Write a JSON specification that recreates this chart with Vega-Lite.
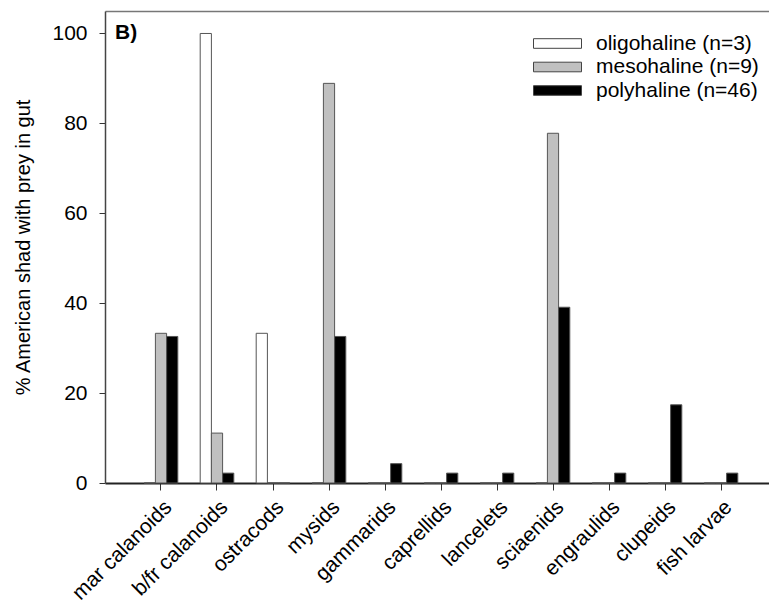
{
  "$schema": "https://vega.github.io/schema/vega-lite/v6.json",
  "width": 664,
  "height": 472,
  "autosize": "none",
  "padding": {"left": 105, "top": 11, "right": 0, "bottom": 122},
  "data": {
    "values": [
      {"prey": "mar calanoids", "group": "oligohaline (n=3)", "pct": 0},
      {"prey": "mar calanoids", "group": "mesohaline (n=9)", "pct": 33.3},
      {"prey": "mar calanoids", "group": "polyhaline (n=46)", "pct": 32.6},
      {"prey": "b/fr calanoids", "group": "oligohaline (n=3)", "pct": 100},
      {"prey": "b/fr calanoids", "group": "mesohaline (n=9)", "pct": 11.1},
      {"prey": "b/fr calanoids", "group": "polyhaline (n=46)", "pct": 2.2},
      {"prey": "ostracods", "group": "oligohaline (n=3)", "pct": 33.3},
      {"prey": "ostracods", "group": "mesohaline (n=9)", "pct": 0},
      {"prey": "ostracods", "group": "polyhaline (n=46)", "pct": 0},
      {"prey": "mysids", "group": "oligohaline (n=3)", "pct": 0},
      {"prey": "mysids", "group": "mesohaline (n=9)", "pct": 88.9},
      {"prey": "mysids", "group": "polyhaline (n=46)", "pct": 32.6},
      {"prey": "gammarids", "group": "oligohaline (n=3)", "pct": 0},
      {"prey": "gammarids", "group": "mesohaline (n=9)", "pct": 0},
      {"prey": "gammarids", "group": "polyhaline (n=46)", "pct": 4.3},
      {"prey": "caprellids", "group": "oligohaline (n=3)", "pct": 0},
      {"prey": "caprellids", "group": "mesohaline (n=9)", "pct": 0},
      {"prey": "caprellids", "group": "polyhaline (n=46)", "pct": 2.2},
      {"prey": "lancelets", "group": "oligohaline (n=3)", "pct": 0},
      {"prey": "lancelets", "group": "mesohaline (n=9)", "pct": 0},
      {"prey": "lancelets", "group": "polyhaline (n=46)", "pct": 2.2},
      {"prey": "sciaenids", "group": "oligohaline (n=3)", "pct": 0},
      {"prey": "sciaenids", "group": "mesohaline (n=9)", "pct": 77.8},
      {"prey": "sciaenids", "group": "polyhaline (n=46)", "pct": 39.1},
      {"prey": "engraulids", "group": "oligohaline (n=3)", "pct": 0},
      {"prey": "engraulids", "group": "mesohaline (n=9)", "pct": 0},
      {"prey": "engraulids", "group": "polyhaline (n=46)", "pct": 2.2},
      {"prey": "clupeids", "group": "oligohaline (n=3)", "pct": 0},
      {"prey": "clupeids", "group": "mesohaline (n=9)", "pct": 0},
      {"prey": "clupeids", "group": "polyhaline (n=46)", "pct": 17.4},
      {"prey": "fish larvae", "group": "oligohaline (n=3)", "pct": 0},
      {"prey": "fish larvae", "group": "mesohaline (n=9)", "pct": 0},
      {"prey": "fish larvae", "group": "polyhaline (n=46)", "pct": 2.2}
    ]
  },
  "layer": [
    {
      "mark": {"type": "bar", "stroke": "#555", "strokeWidth": 1},
      "encoding": {
        "x": {
          "field": "prey", "type": "nominal",
          "sort": ["mar calanoids", "b/fr calanoids", "ostracods", "mysids", "gammarids", "caprellids", "lancelets", "sciaenids", "engraulids", "clupeids", "fish larvae"],
          "scale": {"range": [0, 672], "paddingInner": 0.4, "paddingOuter": 0.7},
          "axis": {"title": null, "labelAngle": -45, "labelFontSize": 21, "labelColor": "#000", "labelPadding": 6, "tickSize": 7, "tickColor": "#333", "domainColor": "#222", "domainWidth": 2, "labelFont": "Liberation Sans"}
        },
        "xOffset": {
          "field": "group", "type": "nominal",
          "sort": ["oligohaline (n=3)", "mesohaline (n=9)", "polyhaline (n=46)"],
          "scale": {"paddingInner": 0, "paddingOuter": 0}
        },
        "y": {
          "field": "pct", "type": "quantitative",
          "title": "% American shad with prey in gut",
          "scale": {"domain": [0, 105], "nice": false},
          "axis": {"values": [0, 20, 40, 60, 80, 100], "labelFontSize": 21, "labelColor": "#000", "labelPadding": 12, "tickSize": 6, "tickColor": "#333", "domainColor": "#444", "domainWidth": 1.5, "titleFontSize": 20, "titleFontWeight": "normal", "titleColor": "#000", "titlePadding": 18, "labelFont": "Liberation Sans", "titleFont": "Liberation Sans"}
        },
        "fill": {
          "field": "group", "type": "nominal",
          "sort": ["oligohaline (n=3)", "mesohaline (n=9)", "polyhaline (n=46)"],
          "scale": {"domain": ["oligohaline (n=3)", "mesohaline (n=9)", "polyhaline (n=46)"], "range": ["#ffffff", "#c0c0c0", "#000000"]},
          "legend": {"orient": "none", "legendX": 440, "legendY": 20, "title": null, "symbolType": "M-2,-0.4H2V0.4H-2Z", "symbolSize": 576, "symbolStrokeColor": "#444", "symbolStrokeWidth": 1, "labelFontSize": 21, "labelFontWeight": "normal", "labelColor": "#000", "labelOffset": 26, "labelLimit": 0, "rowPadding": 0.5, "padding": 0, "labelFont": "Liberation Sans"}
        }
      }
    },
    {
      "mark": {"type": "bar", "opacity": 0},
      "encoding": {
        "x": {
          "field": "prey", "type": "nominal",
          "sort": ["mar calanoids", "b/fr calanoids", "ostracods", "mysids", "gammarids", "caprellids", "lancelets", "sciaenids", "engraulids", "clupeids", "fish larvae"],
          "axis": {"orient": "top", "labels": false, "ticks": false, "title": null, "domainColor": "#777", "domainWidth": 1.5}
        },
        "y": {"field": "pct", "type": "quantitative", "title": "% American shad with prey in gut"}
      }
    },
    {
      "data": {"values": [{"label": "B)", "prey": "mar calanoids", "pct": 100}]},
      "mark": {"type": "text", "align": "left", "baseline": "middle", "dx": -46, "fontSize": 21, "fontWeight": "bold", "font": "Liberation Sans", "color": "#000"},
      "encoding": {
        "x": {
          "field": "prey", "type": "nominal", "axis": null,
          "sort": ["mar calanoids", "b/fr calanoids", "ostracods", "mysids", "gammarids", "caprellids", "lancelets", "sciaenids", "engraulids", "clupeids", "fish larvae"]
        },
        "y": {"field": "pct", "type": "quantitative", "title": "% American shad with prey in gut"},
        "text": {"field": "label"}
      }
    }
  ],
  "resolve": {"axis": {"x": "independent"}},
  "config": {
    "font": "Liberation Sans",
    "view": {"stroke": null},
    "axis": {"grid": false}
  }
}
